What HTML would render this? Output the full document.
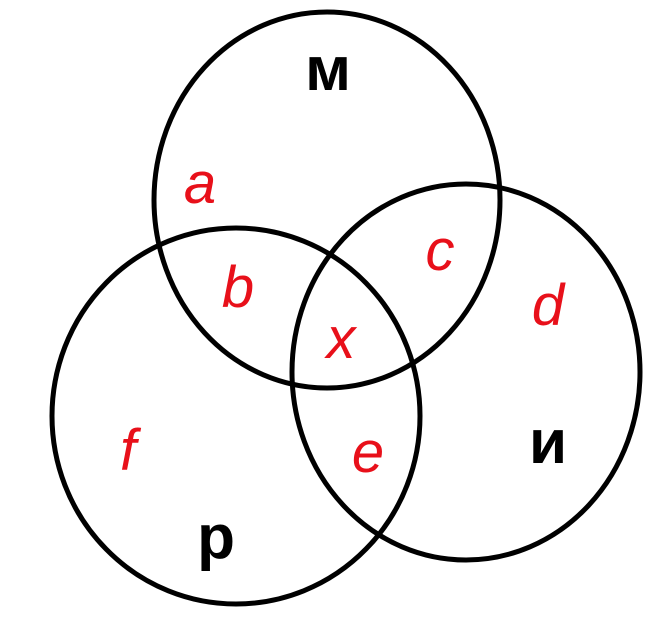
<!DOCTYPE html>
<html><head><style>
html,body{margin:0;padding:0;background:#fff;width:659px;height:637px;overflow:hidden}
svg{display:block}
.r{fill:#e8101a;font-family:"Liberation Sans",sans-serif;font-style:italic;font-size:58px;text-anchor:middle}
.k{fill:#000;font-family:"Liberation Sans",sans-serif;font-weight:bold;font-size:62px;text-anchor:middle}
</style></head><body>
<svg width="659" height="637" viewBox="0 0 659 637">
<g fill="none" stroke="#000" stroke-width="5">
<ellipse cx="327" cy="200" rx="173" ry="188"/>
<ellipse cx="236" cy="416" rx="184" ry="188"/>
<ellipse cx="466" cy="372" rx="174" ry="188"/>
</g>
<text class="k" x="328" y="90">м</text>
<text class="k" x="548" y="463">и</text>
<text class="k" x="216" y="558">р</text>
<text class="r" x="200" y="203">a</text>
<text class="r" x="238" y="307">b</text>
<text class="r" x="440" y="270">c</text>
<text class="r" x="548" y="325">d</text>
<text class="r" x="341" y="358">x</text>
<text class="r" x="128" y="470">f</text>
<text class="r" x="368" y="472">e</text>
</svg>
</body></html>
